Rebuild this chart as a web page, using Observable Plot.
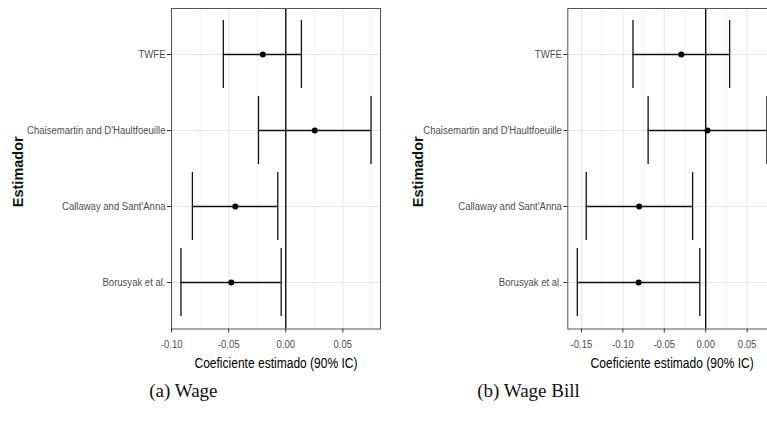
<!DOCTYPE html>
<html>
<head>
<meta charset="utf-8">
<script src="https://cdn.jsdelivr.net/npm/d3@7"></script>
<script src="https://cdn.jsdelivr.net/npm/@observablehq/plot@0.6"></script>
<style>
  html, body { margin: 0; padding: 0; background: #fff; }
  #fig { position: relative; width: 767px; height: 423px; overflow: hidden; background: #fff; }
  .panel { position: absolute; top: 0; }
  .cap { position: absolute; top: 381.5px; transform: translateX(-50%); font-family: "Liberation Serif", serif;
         font-size: 19px; line-height: 18.5px; color: #111; white-space: nowrap; }
</style>
</head>
<body>
<div id="fig"></div>
<script>
// Estimators, top to bottom
const estimators = ["TWFE", "Chaisemartin and D'Haultfoeuille", "Callaway and Sant'Anna", "Borusyak et al."];

// (a) Wage: point estimates and 90% confidence bounds
const wageEst = [-0.0201, 0.0254, -0.0442, -0.0477];
const wageLo  = [-0.0547, -0.0239, -0.0818, -0.0918];
const wageHi  = [0.0137, 0.0747, -0.0070, -0.0040];

// (b) Wage Bill: point estimates and 90% confidence bounds
const billEst = [-0.0294, 0.0022, -0.0803, -0.0810];
const billLo  = [-0.0878, -0.0695, -0.1442, -0.1550];
const billHi  = [0.0289, 0.0739, -0.0158, -0.0071];

// Axis ticks and minor grid positions
const wageTicks = [-0.10, -0.05, 0.00, 0.05];
const wageMinor = [-0.075, -0.025, 0.025, 0.075];
const billTicks = [-0.15, -0.10, -0.05, 0.00, 0.05];
const billMinor = [-0.125, -0.075, -0.025, 0.025, 0.075];

const xTitle = "Coeficiente estimado (90% IC)";
const yTitle = "Estimador";
const captions = ["(a) Wage", "(b) Wage Bill"];

const fmt = d => d.toFixed(2);
const sans = "'Liberation Sans', Arial, sans-serif";
const condense = 0.83; // horizontal squeeze for the condensed tick and title lettering

function coefPlot({est, lo, hi, domain, ticks, minor, width, marginLeft}) {
  const rows = estimators.map((name, i) => ({name, est: est[i], lo: lo[i], hi: hi[i]}));
  const svg = Plot.plot({
    width,
    height: 380,
    marginLeft,
    marginRight: 1,
    marginTop: 8,
    marginBottom: 51.5,
    style: {fontFamily: sans, background: "transparent", overflow: "visible"},
    x: {domain, label: null},
    y: {type: "band", domain: estimators, paddingInner: 0.1, paddingOuter: 0.15, label: null},
    marks: [
      Plot.gridX(minor, {stroke: "#ededed", strokeWidth: 0.6, strokeOpacity: 1}),
      Plot.gridX(ticks, {stroke: "#e6e6e6", strokeWidth: 1.1, strokeOpacity: 1}),
      Plot.gridY(estimators, {stroke: "#e6e6e6", strokeWidth: 1.1, strokeOpacity: 1}),
      Plot.ruleX([0], {stroke: "#000", strokeWidth: 1.3}),
      Plot.ruleY(rows, {y: "name", x1: "lo", x2: "hi", stroke: "#111", strokeWidth: 1.3}),
      Plot.tickX(rows, {x: "lo", y: "name", stroke: "#111", strokeWidth: 1.3}),
      Plot.tickX(rows, {x: "hi", y: "name", stroke: "#111", strokeWidth: 1.3}),
      Plot.dot(rows, {x: "est", y: "name", r: 3, fill: "#000"}),
      Plot.frame({stroke: "#555", strokeWidth: 1}),
      Plot.axisX({ticks, tickFormat: fmt, tickSize: 4, tickPadding: 7, label: null,
                  fontSize: 11.5, fill: "#4d4d4d", stroke: "#333", className: "narrow"}),
      Plot.axisY({tickSize: 4, tickPadding: 2, label: null,
                  fontSize: 11.5, fill: "#4d4d4d", stroke: "#333", className: "narrow"}),
      Plot.text([xTitle], {text: d => d, frameAnchor: "bottom", dy: 34.2, lineAnchor: "middle",
                           textAnchor: "middle", fontSize: 14.5, fill: "#000", className: "narrow"}),
      Plot.text([yTitle], {text: d => d, frameAnchor: "left", rotate: -90, textAnchor: "middle",
                           dx: 18 - marginLeft, dy: 3, fontSize: 14.5, fontWeight: "bold", fill: "#111"})
    ]
  });
  // Condense the horizontal lettering about each label's own anchor point
  svg.querySelectorAll("text").forEach(t => {
    const g = t.closest("g");
    const cls = g && g.getAttribute("class");
    if (!cls || !cls.includes("narrow")) return;
    const tr = t.getAttribute("transform");
    if (tr) {
      t.setAttribute("transform", tr + ` scale(${condense},1)`);
    } else {
      const x = +t.getAttribute("x") || 0;
      t.setAttribute("transform", `translate(${x},0) scale(${condense},1)`);
      t.setAttribute("x", 0);
    }
  });
  return svg;
}

const fig = document.getElementById("fig");

const left = coefPlot({est: wageEst, lo: wageLo, hi: wageHi, domain: [-0.1001, 0.0830],
                       ticks: wageTicks, minor: wageMinor, width: 381, marginLeft: 171});
left.classList.add("panel");
left.style.left = "0px";
fig.appendChild(left);

const right = coefPlot({est: billEst, lo: billLo, hi: billHi, domain: [-0.1665, 0.0855],
                        ticks: billTicks, minor: billMinor, width: 377, marginLeft: 167.3});
right.classList.add("panel");
right.style.left = "400px";
fig.appendChild(right);

[[captions[0], 183.4], [captions[1], 528.5]].forEach(([t, cx]) => {
  const s = document.createElement("span");
  s.className = "cap";
  s.textContent = t;
  s.style.left = cx + "px";
  fig.appendChild(s);
});
</script>
</body>
</html>
